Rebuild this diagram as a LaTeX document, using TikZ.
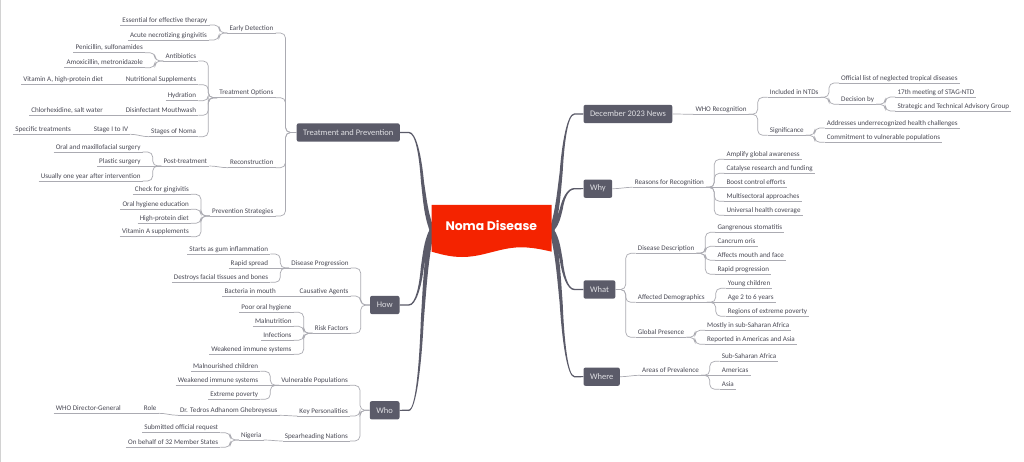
\documentclass[tikz,border=0pt]{standalone}
\usepackage{fontspec}
\setmainfont{Carlito}
\newfontfamily\titlefont{Poppins}
\usetikzlibrary{calc}
\definecolor{ink}{HTML}{4A4A55}
\definecolor{linec}{HTML}{ABABB2}
\definecolor{boxc}{HTML}{5B5B69}
\definecolor{boxtext}{HTML}{E0E0E4}
\definecolor{flag}{HTML}{F42300}
\tikzset{
  conn/.style={draw=linec,line width=0.7pt,rounded corners=5pt},
  lab/.style={font=\fontsize{7.08}{9}\selectfont,text=ink,inner xsep=2pt,inner ysep=0.6pt,text height=6.2pt,text depth=2pt},
  topbox/.style={fill=boxc,rounded corners=2pt,text=boxtext,font=\fontsize{8.5}{11}\selectfont,inner xsep=6.5pt,inner ysep=0pt,minimum height=18.3pt}
}
% labels: x is the text end nearest the parent side
\newcommand\LN[4]{\node[lab,anchor=south east] (#1) at (#2+2,-#3) {#4};\draw[conn] (#1.south west)--(#1.south east);}
\newcommand\RN[4]{\node[lab,anchor=south west] (#1) at (#2-2,-#3) {#4};\draw[conn] (#1.south west)--(#1.south east);}
% elbows
\newcommand\LK[3][south west]{\draw[conn] let \p1=(#2.#1),\p2=(#3.south east) in (\p1)--({\x2+10pt},\y1)--({\x2+10pt},\y2)--(\p2);}
\newcommand\RK[3][south east]{\draw[conn] let \p1=(#2.#1),\p2=(#3.south west) in (\p1)--({\x2-10pt},\y1)--({\x2-10pt},\y2)--(\p2);}
\newcommand\LS[2]{\draw[conn] (#1.south west)--(#2.south east);}
\newcommand\RS[2]{\draw[conn] (#1.south east)--(#2.south west);}
\newcommand\LC[3][south west]{\draw[conn] (#2.#1) to[out=180,in=0] (#3.south east);}
\newcommand\RC[3][south east]{\draw[conn] (#2.#1) to[out=0,in=180] (#3.south west);}
% tapered main branch
\newcommand\taper[2]{\fill[boxc] let \p1=(#1),\p2=(#2),
   \n1={\x2-\x1},\n2={\y2-\y1},
   \n3={(\n1>0pt ? 1 : -1)},\n4={(\n2>0pt ? 1 : -1)} in
   ({\x1-2.6*\n3},{\y1})
   .. controls ({\x1+.18*\n1-2.2*\n3},{\y1+.15*\n2}) and ({\x1+.22*\n1-1.9*\n3},{\y1+.3*\n2}) .. ({\x1+.30*\n1-1.5*\n3},{\y1+.5*\n2})
   .. controls ({\x1+.36*\n1-1.1*\n3},{\y1+.75*\n2+.5*\n4}) and ({\x1+.5*\n1-.3*\n3},{\y2+.8*\n4}) .. ({\x1+.72*\n1},{\y2+.7*\n4})
   -- ({\x2},{\y2+.5*\n4}) -- ({\x2},{\y2-.5*\n4}) -- ({\x1+.72*\n1},{\y2-.7*\n4})
   .. controls ({\x1+.5*\n1+.3*\n3},{\y2-.8*\n4}) and ({\x1+.36*\n1+1.1*\n3},{\y1+.75*\n2-.5*\n4}) .. ({\x1+.30*\n1+1.5*\n3},{\y1+.5*\n2})
   .. controls ({\x1+.22*\n1+1.9*\n3},{\y1+.3*\n2}) and ({\x1+.18*\n1+2.2*\n3},{\y1+.15*\n2}) .. ({\x1+2.6*\n3},{\y1}) -- cycle;}
\begin{document}
\begin{tikzpicture}[x=1pt,y=1pt]
\useasboundingbox (0,0) rectangle (1024,-462);
\fill[white] (0,0) rectangle (1024,-462);
\draw[gray!35,line width=1pt] (0,0) rectangle (1024,-462);

% central flag anchors
\coordinate (nomaL) at (432,-230);
\coordinate (nomaR) at (551.7,-230);

% main branches run to the box edges
\coordinate (treatE) at (400,-132.5);
\coordinate (howE) at (399.7,-305);
\coordinate (whoE) at (399.7,-410.3);
\coordinate (decW) at (583.3,-114);
\coordinate (whyW) at (583.3,-188.7);
\coordinate (whatW) at (583.3,-289.5);
\coordinate (whereW) at (583.3,-376.7);
\taper{nomaL}{treatE}
\taper{nomaL}{howE}
\taper{nomaL}{whoE}
\taper{nomaR}{decW}
\taper{nomaR}{whyW}
\taper{nomaR}{whatW}
\taper{nomaR}{whereW}

% flag
\fill[flag] (431.7,-205) -- (551.7,-205) -- (551.7,-251.7)
  .. controls (532,-247) and (520,-246) .. (505,-249)
  .. controls (490,-252) and (478,-257) .. (462,-257)
  .. controls (450,-257) and (440,-254) .. (431.7,-251.7) -- cycle;
\node[font=\titlefont\bfseries\fontsize{12.4}{14}\selectfont,text=white,inner sep=0pt] (noma) at (491.3,-226) {Noma Disease};

% top-level boxes
\node[topbox,anchor=east] (treat) at (treatE) {Treatment and Prevention};
\node[topbox,anchor=east,minimum width=29.5pt] (how) at (howE) {How};
\node[topbox,anchor=east,minimum width=29.7pt] (who) at (whoE) {Who};
\node[topbox,anchor=west] (dec) at (decW) {December 2023 News};
\node[topbox,anchor=west] (why) at (whyW) {Why};
\node[topbox,anchor=west] (what) at (whatW) {What};
\node[topbox,anchor=west] (where) at (whereW) {Where};

%% Treatment and Prevention
\LN{early}{273.5}{33}{Early Detection}
\LN{topt}{273.5}{97.7}{Treatment Options}
\LN{recon}{273.5}{167.7}{Reconstruction}
\LN{prev}{273.5}{216}{Prevention Strategies}
\LK[west]{treat}{early}\LK[west]{treat}{topt}\LK[west]{treat}{recon}\LK[west]{treat}{prev}

\LN{ess}{207.5}{25}{Essential for effective therapy}
\LN{acute}{207}{40}{Acute necrotizing gingivitis}
\LK{early}{ess}\LK{early}{acute}

\LN{anti}{196.3}{61}{Antibiotics}
\LN{nutr}{196.3}{84.7}{Nutritional Supplements}
\LN{hydr}{196.3}{100.7}{Hydration}
\LN{disi}{196.3}{115.3}{Disinfectant Mouthwash}
\LN{stag}{196.3}{136.7}{Stages of Noma}
\LK{topt}{anti}\LK{topt}{nutr}\LK{topt}{hydr}\LK{topt}{disi}\LK{topt}{stag}

\LN{peni}{143}{52.7}{Penicillin, sulfonamides}
\LN{amox}{143}{67.7}{Amoxicillin, metronidazole}
\LK{anti}{peni}\LK{anti}{amox}
\LN{vita}{103.3}{84.7}{Vitamin A, high-protein diet}
\LS{nutr}{vita}
\LN{chlo}{103}{115.3}{Chlorhexidine, salt water}
\LS{disi}{chlo}
\LN{stg}{128.3}{134.3}{Stage I to IV}
\LC{stag}{stg}
\LN{spec}{71}{134.3}{Specific treatments}
\LS{stg}{spec}

\LN{post}{207.3}{166}{Post-treatment}
\LC{recon}{post}
\LN{oral}{140.7}{152}{Oral and maxillofacial surgery}
\LN{plas}{140.7}{166}{Plastic surgery}
\LN{usua}{140.7}{181}{Usually one year after intervention}
\LK{post}{oral}\LS{post}{plas}\LK{post}{usua}

\LN{chec}{189}{194.3}{Check for gingivitis}
\LN{hygi}{189}{209.3}{Oral hygiene education}
\LN{hipr}{189}{223.3}{High-protein diet}
\LN{vsup}{189}{236.7}{Vitamin A supplements}
\LK{prev}{chec}\LK{prev}{hygi}\LK{prev}{hipr}\LK{prev}{vsup}

%% How
\LN{dpro}{348.7}{268}{Disease Progression}
\LN{caus}{348.7}{296}{Causative Agents}
\LN{risk}{348.7}{333.3}{Risk Factors}
\LK[west]{how}{dpro}\LK[west]{how}{caus}\LK[west]{how}{risk}
\LN{star}{268.3}{254}{Starts as gum inflammation}
\LN{rapd}{268.3}{268}{Rapid spread}
\LN{dest}{268.3}{282.3}{Destroys facial tissues and bones}
\LK{dpro}{star}\LS{dpro}{rapd}\LK{dpro}{dest}
\LN{bact}{276}{296}{Bacteria in mouth}
\LS{caus}{bact}
\LN{poor}{291.7}{312.3}{Poor oral hygiene}
\LN{maln}{291.7}{326.3}{Malnutrition}
\LN{infe}{291.7}{340.3}{Infections}
\LN{weak}{291.7}{354.3}{Weakened immune systems}
\LK{risk}{poor}\LK{risk}{maln}\LK{risk}{infe}\LK{risk}{weak}

%% Who
\LN{vuln}{348}{385.3}{Vulnerable Populations}
\LN{keyp}{348}{416}{Key Personalities}
\LN{spea}{348}{441}{Spearheading Nations}
\LK[west]{who}{vuln}\LK[west]{who}{keyp}\LK[west]{who}{spea}
\LN{malc}{258.3}{371.3}{Malnourished children}
\LN{weis}{258.3}{385.3}{Weakened immune systems}
\LN{extr}{258.3}{399.3}{Extreme poverty}
\LK{vuln}{malc}\LS{vuln}{weis}\LK{vuln}{extr}
\LN{tedr}{277.7}{415.3}{Dr. Tedros Adhanom Ghebreyesus}
\LC{keyp}{tedr}
\LN{role}{156.7}{413.3}{Role}
\LC{tedr}{role}
\LN{wdg}{121}{413.3}{WHO Director-General}
\LS{role}{wdg}
\LN{nige}{261.7}{440}{Nigeria}
\LC{spea}{nige}
\LN{subm}{218.3}{432.7}{Submitted official request}
\LN{beha}{218.3}{447.3}{On behalf of 32 Member States}
\LK{nige}{subm}\LK{nige}{beha}

%% December 2023 News
\RN{whor}{695.3}{114.3}{WHO Recognition}
\RC[east]{dec}{whor}
\RN{incl}{769.7}{97.3}{Included in NTDs}
\RN{sign}{769.7}{135.3}{Significance}
\RK{whor}{incl}\RK{whor}{sign}
\RN{offi}{841}{83}{Official list of neglected tropical diseases}
\RN{deci}{841}{104.3}{Decision by}
\RK{incl}{offi}\RK{incl}{deci}
\RN{sev}{897.3}{97}{17th meeting of STAG-NTD}
\RN{stra}{897.3}{111}{Strategic and Technical Advisory Group}
\RK{deci}{sev}\RK{deci}{stra}
\RN{addr}{826.7}{128}{Addresses underrecognized health challenges}
\RN{comm}{826.7}{142.3}{Commitment to vulnerable populations}
\RK{sign}{addr}\RK{sign}{comm}

%% Why
\RN{reas}{634.7}{187.3}{Reasons for Recognition}
\RC[east]{why}{reas}
\RN{ampl}{726.3}{159.3}{Amplify global awareness}
\RN{cata}{726.3}{173.3}{Catalyse research and funding}
\RN{boos}{726.3}{187.3}{Boost control efforts}
\RN{mult}{726.3}{201.3}{Multisectoral approaches}
\RN{univ}{726.3}{215.3}{Universal health coverage}
\RK{reas}{ampl}\RK{reas}{cata}\RS{reas}{boos}\RK{reas}{mult}\RK{reas}{univ}

%% What
\RN{ddes}{637.7}{253.3}{Disease Description}
\RN{adem}{637.7}{302.3}{Affected Demographics}
\RN{glob}{637.7}{337.3}{Global Presence}
\RK[east]{what}{ddes}\RK[east]{what}{adem}\RK[east]{what}{glob}
\RN{gang}{717.3}{232.3}{Gangrenous stomatitis}
\RN{canc}{717.3}{246.3}{Cancrum oris}
\RN{affe}{717.3}{260.3}{Affects mouth and face}
\RN{rprg}{717.3}{274.3}{Rapid progression}
\RK{ddes}{gang}\RK{ddes}{canc}\RK{ddes}{affe}\RK{ddes}{rprg}
\RN{youn}{727.7}{288.3}{Young children}
\RN{agee}{727.7}{302.3}{Age 2 to 6 years}
\RN{regi}{727.7}{316.3}{Regions of extreme poverty}
\RK{adem}{youn}\RS{adem}{agee}\RK{adem}{regi}
\RN{most}{707}{330.3}{Mostly in sub-Saharan Africa}
\RN{repo}{707}{344.3}{Reported in Americas and Asia}
\RK{glob}{most}\RK{glob}{repo}

%% Where
\RN{area}{642}{375.3}{Areas of Prevalence}
\RC[east]{where}{area}
\RN{ssaf}{721.7}{361.3}{Sub-Saharan Africa}
\RN{amer}{721.7}{375.3}{Americas}
\RN{asia}{721.7}{389.3}{Asia}
\RK{area}{ssaf}\RS{area}{amer}\RK{area}{asia}
\end{tikzpicture}
\end{document}
